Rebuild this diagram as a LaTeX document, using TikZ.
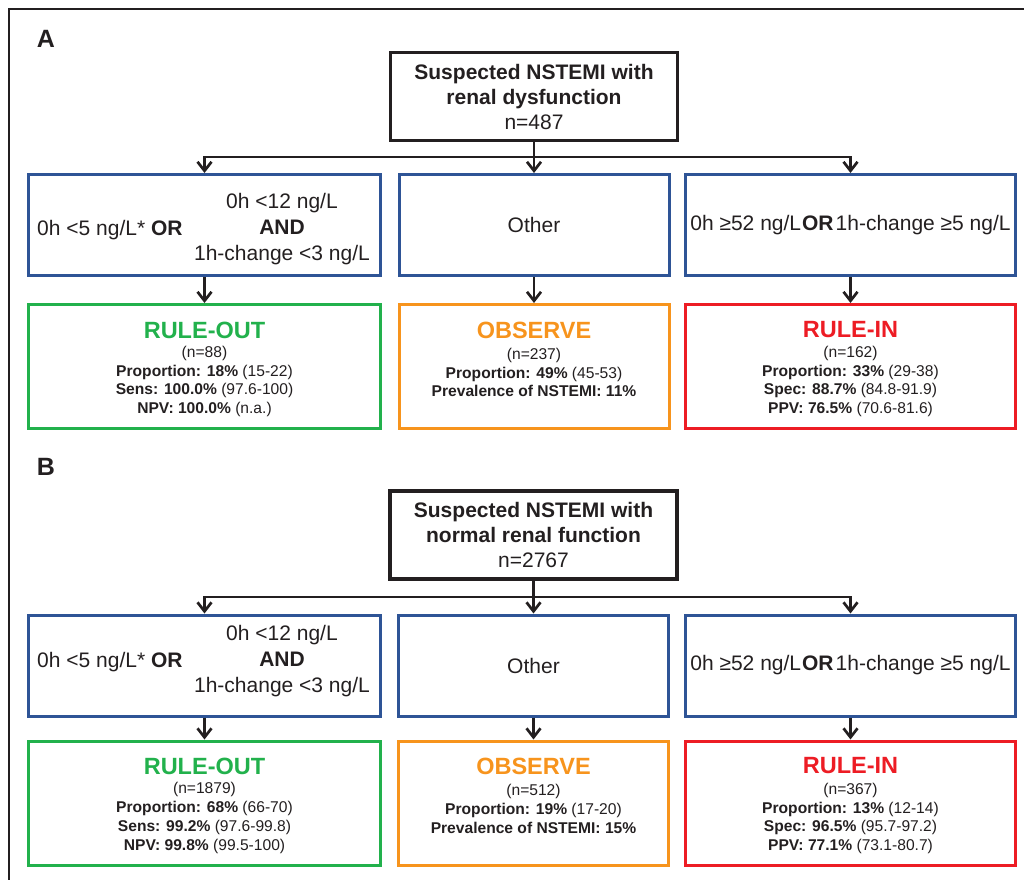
\documentclass[tikz,border=0pt]{standalone}
\usepackage{fontspec}
\setmainfont{Liberation Sans}
\usetikzlibrary{arrows.meta}
\definecolor{cblue}{RGB}{46,84,150}
\definecolor{cgreen}{RGB}{34,177,76}
\definecolor{corange}{RGB}{247,148,29}
\definecolor{cred}{RGB}{237,28,36}
\definecolor{ink}{RGB}{35,31,32}
\tikzset{
  tbox/.style={draw=ink, line width=3.2pt, minimum width=287pt, minimum height=88pt, inner sep=0pt,
    align=center, text=ink, font=\fontsize{21}{25}\selectfont},
  cbox/.style={draw=cblue, line width=3pt, minimum height=101pt, inner sep=0pt,
    align=center, text=ink, font=\fontsize{21}{26}\selectfont},
  rbox/.style={draw=#1, line width=3pt, minimum height=124pt, inner sep=0pt},
  ctext/.style={inner sep=0pt, align=center, text=ink, font=\fontsize{21}{26}\selectfont},
  head/.style={inner sep=0pt, text=#1, font=\bfseries\fontsize{23.5}{26}\selectfont},
  data/.style={inner sep=0pt, align=center, text=ink, font=\fontsize{15.6}{18.8}\selectfont},
  plabel/.style={inner sep=0pt, text=ink, font=\bfseries\fontsize{25}{28}\selectfont},
  arr/.style={draw=ink, line width=2.7pt, -{Straight Barb[length=9pt,width=14pt]}},
  frame/.style={draw=ink, line width=2.2pt}
}
\begin{document}
\begin{tikzpicture}[x=1pt,y=-1pt]
\useasboundingbox (0,0) rectangle (1024,880);
\coordinate (f1) at (1024,9);
\coordinate (f2) at (9,9);
\coordinate (f3) at (9,880);
\draw[frame] (f1) -- (f2) -- (f3);

% ---------------- Panel A ----------------
\node[plabel] (labA) at (46,39) {A};
\node[tbox] (topA) at (534,96.5) {\textbf{Suspected NSTEMI with}\\\textbf{renal dysfunction}\\n=487};
\coordinate (jA) at (534,157);

\node[cbox, minimum width=352pt] (cLA) at (204.5,225) {};
\node[cbox, minimum width=270pt] (cMA) at (534,225) {Other};
\node[cbox, minimum width=330pt] (cRA) at (850.5,225) {0h ≥52 ng/L\hspace{1pt}\textbf{OR}\hspace{2pt}1h-change ≥5 ng/L};
\node[ctext, anchor=west] (tLA1) at (37,230) {0h <5 ng/L* \textbf{OR}};
\node[ctext] (tLA2) at (282,229) {0h <12 ng/L\\\textbf{AND}\\1h-change <3 ng/L};

\node[rbox=cgreen, minimum width=352pt] (rLA) at (204.5,366.5) {};
\node[rbox=corange, minimum width=270pt] (rMA) at (534,366.5) {};
\node[rbox=cred, minimum width=330pt] (rRA) at (850.5,366.5) {};

\node[head=cgreen] (hLA) at (204.5,330) {RULE-OUT};
\node[head=corange] (hMA) at (534,330) {OBSERVE};
\node[head=cred] (hRA) at (850.5,330) {RULE-IN};

\node[data] (dLA) at (204.5,381.5) {(n=88)\\\textbf{Proportion: 18\%} (15-22)\\\textbf{Sens: 100.0\%} (97.6-100)\\\textbf{NPV: 100.0\%} (n.a.)};
\node[data] (dMA) at (534,372.5) {(n=237)\\\textbf{Proportion: 49\%} (45-53)\\\textbf{Prevalence of NSTEMI: 11\%}};
\node[data] (dRA) at (850.5,381.5) {(n=162)\\\textbf{Proportion: 33\%} (29-38)\\\textbf{Spec: 88.7\%} (84.8-91.9)\\\textbf{PPV: 76.5\%} (70.6-81.6)};

\draw[arr] (topA.south) -- (cMA.north);
\draw[arr] (jA) -| (cLA.north);
\draw[arr] (jA) -| (cRA.north);
\draw[arr] (cLA.south) -- (rLA.north);
\draw[arr] (cMA.south) -- (rMA.north);
\draw[arr] (cRA.south) -- (rRA.north);

% ---------------- Panel B ----------------
\node[plabel] (labB) at (46,467) {B};
\node[tbox] (topB) at (533.5,535) {\textbf{Suspected NSTEMI with}\\\textbf{normal renal function}\\n=2767};
\coordinate (jB) at (533.5,597);

\node[cbox, minimum width=352pt] (cLB) at (204.5,665.5) {};
\node[cbox, minimum width=270pt] (cMB) at (533.5,665.5) {Other};
\node[cbox, minimum width=330pt] (cRB) at (850.5,665.5) {0h ≥52 ng/L\hspace{1pt}\textbf{OR}\hspace{2pt}1h-change ≥5 ng/L};
\node[ctext, anchor=west] (tLB1) at (37,662) {0h <5 ng/L* \textbf{OR}};
\node[ctext] (tLB2) at (282,661) {0h <12 ng/L\\\textbf{AND}\\1h-change <3 ng/L};

\node[rbox=cgreen, minimum width=352pt] (rLB) at (204.5,803) {};
\node[rbox=corange, minimum width=270pt] (rMB) at (533.5,803) {};
\node[rbox=cred, minimum width=330pt] (rRB) at (850.5,803) {};

\node[head=cgreen] (hLB) at (204.5,766) {RULE-OUT};
\node[head=corange] (hMB) at (533.5,766) {OBSERVE};
\node[head=cred] (hRB) at (850.5,766) {RULE-IN};

\node[data] (dLB) at (204.5,818) {(n=1879)\\\textbf{Proportion: 68\%} (66-70)\\\textbf{Sens: 99.2\%} (97.6-99.8)\\\textbf{NPV: 99.8\%} (99.5-100)};
\node[data] (dMB) at (533.5,809) {(n=512)\\\textbf{Proportion: 19\%} (17-20)\\\textbf{Prevalence of NSTEMI: 15\%}};
\node[data] (dRB) at (850.5,818.5) {(n=367)\\\textbf{Proportion: 13\%} (12-14)\\\textbf{Spec: 96.5\%} (95.7-97.2)\\\textbf{PPV: 77.1\%} (73.1-80.7)};

\draw[arr] (topB.south) -- (cMB.north);
\draw[arr] (jB) -| (cLB.north);
\draw[arr] (jB) -| (cRB.north);
\draw[arr] (cLB.south) -- (rLB.north);
\draw[arr] (cMB.south) -- (rMB.north);
\draw[arr] (cRB.south) -- (rRB.north);
\end{tikzpicture}
\end{document}
